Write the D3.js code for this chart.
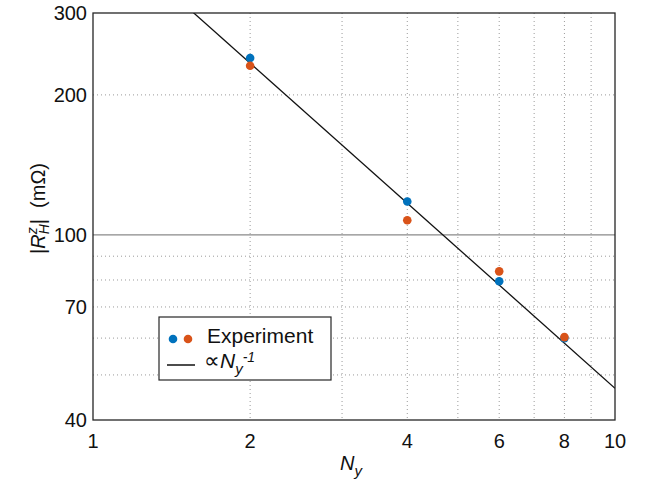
<!DOCTYPE html>
<html>
<head>
<meta charset="utf-8">
<script src="https://cdn.jsdelivr.net/npm/d3@7"></script>
<style>
  body { margin: 0; background: #fff; }
  svg { font-family: 'Liberation Sans', Arial, sans-serif; }
</style>
</head>
<body>
<div id="chart"></div>
<script>
// data
const ny = [2, 4, 6, 8]
const blueVals = [240, 118, 79.5, 60]
const orangeVals = [231, 107.5, 83.5, 60.3]
const fitCoef = 468 // |R| ~ fitCoef / Ny
const xTicks = [1, 2, 4, 6, 8, 10]
const yTicks = [40, 70, 100, 200, 300]
const xGrid = [2, 3, 4, 5, 6, 7, 8, 9]
const yGrid = [50, 60, 70, 80, 90, 200]
const yMajor = [100]

const W = 647, H = 481
const m = { left: 93, right: 32, top: 13, bottom: 61 }
const iw = W - m.left - m.right
const ih = H - m.top - m.bottom

const svg = d3.select('#chart').append('svg').attr('width', W).attr('height', H)
const g = svg.append('g').attr('transform', `translate(${m.left},${m.top})`)

const x = d3.scaleLog().domain([1, 10]).range([0, iw])
const y = d3.scaleLog().domain([40, 300]).range([ih, 0])

// grid
g.selectAll('.xg').data(xGrid).enter().append('line')
  .attr('x1', d => x(d)).attr('x2', d => x(d))
  .attr('y1', 0).attr('y2', ih)
  .attr('stroke', '#9a9a9a').attr('stroke-width', 1)
  .attr('stroke-dasharray', '1,3')
g.selectAll('.yg').data(yGrid).enter().append('line')
  .attr('y1', d => y(d)).attr('y2', d => y(d))
  .attr('x1', 0).attr('x2', iw)
  .attr('stroke', '#9a9a9a').attr('stroke-width', 1)
  .attr('stroke-dasharray', '1,3')
g.selectAll('.ym').data(yMajor).enter().append('line')
  .attr('y1', d => y(d)).attr('y2', d => y(d))
  .attr('x1', 0).attr('x2', iw)
  .attr('stroke', '#8a8a8a').attr('stroke-width', 1.2)

// fit line, clipped to plot
svg.append('clipPath').attr('id', 'clip').append('rect')
  .attr('width', iw).attr('height', ih)
const fitX = [1, 10]
g.append('path')
  .attr('clip-path', 'url(#clip)')
  .attr('d', d3.line().x(d => x(d)).y(d => y(fitCoef / d))(fitX))
  .attr('stroke', '#111').attr('stroke-width', 1.3).attr('fill', 'none')

// points
g.selectAll('.pb').data(ny).enter().append('circle')
  .attr('cx', d => x(d)).attr('cy', (d, i) => y(blueVals[i]))
  .attr('r', 4.3).attr('fill', '#0072BD')
g.selectAll('.po').data(ny).enter().append('circle')
  .attr('cx', d => x(d)).attr('cy', (d, i) => y(orangeVals[i]))
  .attr('r', 4.3).attr('fill', '#D95319')

// box
g.append('rect').attr('width', iw).attr('height', ih)
  .attr('fill', 'none').attr('stroke', '#262626').attr('stroke-width', 1.3)

// tick labels
g.selectAll('.xt').data(xTicks).enter().append('text')
  .attr('x', d => x(d)).attr('y', ih + 28)
  .attr('text-anchor', 'middle').attr('font-size', 20).attr('fill', '#111')
  .text(d => d)
g.selectAll('.yt').data(yTicks).enter().append('text')
  .attr('x', -6).attr('y', d => y(d) + 7)
  .attr('text-anchor', 'end').attr('font-size', 20).attr('fill', '#111')
  .text(d => d)

// axis labels
const xl = g.append('text').attr('x', iw / 2 - 3).attr('y', ih + 50)
  .attr('text-anchor', 'middle').attr('font-size', 20).attr('fill', '#111')
xl.append('tspan').attr('font-style', 'italic').text('N')
xl.append('tspan').attr('font-style', 'italic').attr('font-size', 15).attr('dy', 6).text('y')

const yl = svg.append('text')
  .attr('transform', `translate(45,${m.top + ih / 2 - 8}) rotate(-90)`)
  .attr('text-anchor', 'middle').attr('font-size', 20).attr('fill', '#111')
yl.append('tspan').text('|')
yl.append('tspan').attr('font-style', 'italic').text('R')
yl.append('tspan').attr('font-style', 'italic').attr('font-size', 14).attr('dy', -8).text('z')
yl.append('tspan').attr('font-style', 'italic').attr('font-size', 14).attr('dx', -7).attr('dy', 12).text('H')
yl.append('tspan').attr('dy', -4).text('|\u00a0\u00a0(mΩ)')

// legend
const lg = svg.append('g').attr('transform', 'translate(159,317)')
lg.append('rect').attr('width', 172).attr('height', 63)
  .attr('fill', '#fff').attr('stroke', '#262626').attr('stroke-width', 1.2)
lg.append('circle').attr('cx', 14).attr('cy', 22).attr('r', 4.3).attr('fill', '#0072BD')
lg.append('circle').attr('cx', 29).attr('cy', 22).attr('r', 4.3).attr('fill', '#D95319')
lg.append('text').attr('x', 48).attr('y', 26).attr('font-size', 21).attr('fill', '#111')
  .text('Experiment')
lg.append('line').attr('x1', 8).attr('x2', 36).attr('y1', 48).attr('y2', 48)
  .attr('stroke', '#111').attr('stroke-width', 1.5)
const lt = lg.append('text').attr('x', 45).attr('y', 51).attr('font-size', 20).attr('fill', '#111')
lt.append('tspan').attr('font-size', 22).text('∝')
lt.append('tspan').attr('font-style', 'italic').attr('font-size', 21).text('N')
lt.append('tspan').attr('font-style', 'italic').attr('font-size', 15).attr('dy', 6).text('y')
lt.append('tspan').attr('font-style', 'italic').attr('font-size', 14).attr('dy', -12).text('-1')
</script>
</body>
</html>
